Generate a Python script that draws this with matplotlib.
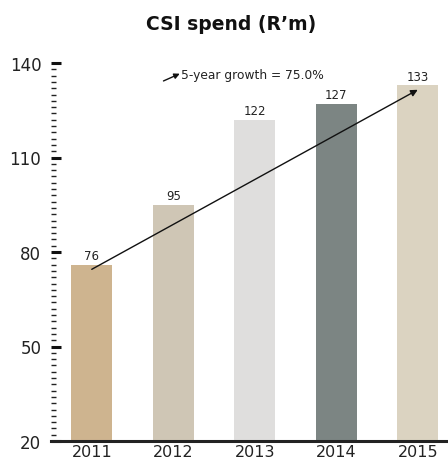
import matplotlib
matplotlib.use("Agg")
import matplotlib.pyplot as plt
from matplotlib.ticker import MultipleLocator

years = ["2011", "2012", "2013", "2014", "2015"]
spend = [76, 95, 122, 127, 133]
bar_colors = ["#CEB48F", "#CFC6B5", "#DFDEDD", "#7C8583", "#DBD3C1"]
y_ticks = [20, 50, 80, 110, 140]

growth = (spend[-1] - spend[0]) / spend[0] * 100

fig = plt.figure(figsize=(4.48, 4.64), dpi=100)
ax = fig.add_axes([51 / 448, 22 / 464, 407.5 / 448, 378 / 464])

x = list(range(len(years)))
ax.bar(x, [v - 20 for v in spend], bottom=20, width=0.5, color=bar_colors, zorder=2)

for xi, v in zip(x, spend):
    ax.text(xi, v + 0.8, str(v), ha="center", va="bottom", fontsize=8.5, color="#222222")

# trend arrow from first to last year
ax.annotate("", xy=(x[-1], spend[-1] - 1.5), xytext=(x[0], spend[0] - 1.5),
            arrowprops=dict(arrowstyle="-|>", color="#111111", lw=1.0,
                            mutation_scale=10, shrinkA=0, shrinkB=0), zorder=4)

# little legend arrow + label
ax.annotate("", xy=(1.08, 136.6), xytext=(0.88, 134.3),
            arrowprops=dict(arrowstyle="-|>", color="#111111", lw=1.0,
                            mutation_scale=8, shrinkA=0, shrinkB=0))
ax.text(1.1, 136.4, f"5-year growth = {growth:.1f}%", fontsize=8.8,
        va="center", ha="left", color="#222222")

ax.set_xlim(-0.5, 4.5)
ax.set_ylim(20, 140)
ax.set_xticks(x)
ax.set_xticklabels(years, fontsize=11.5, color="#222222")
ax.set_yticks(y_ticks)
ax.yaxis.set_minor_locator(MultipleLocator(2))
ax.tick_params(axis="x", length=0, pad=2)
ax.tick_params(axis="y", which="major", direction="in", length=7.5, width=2.2,
               color="#111111", labelsize=12, pad=7, labelcolor="#222222")
ax.tick_params(axis="y", which="minor", direction="in", length=3.8, width=1.0,
               color="#222222")

for side in ["left", "right", "top"]:
    ax.spines[side].set_visible(False)
ax.spines["bottom"].set_linewidth(2.2)
ax.spines["bottom"].set_color("#222222")
ax.spines["bottom"].set_zorder(3)

fig.text(231 / 448, 1 - 25 / 464, "CSI spend (R\u2019m)", ha="center", va="center",
         fontsize=13.5, fontweight="bold", color="#111111")

fig.savefig("out.png", dpi=100)
